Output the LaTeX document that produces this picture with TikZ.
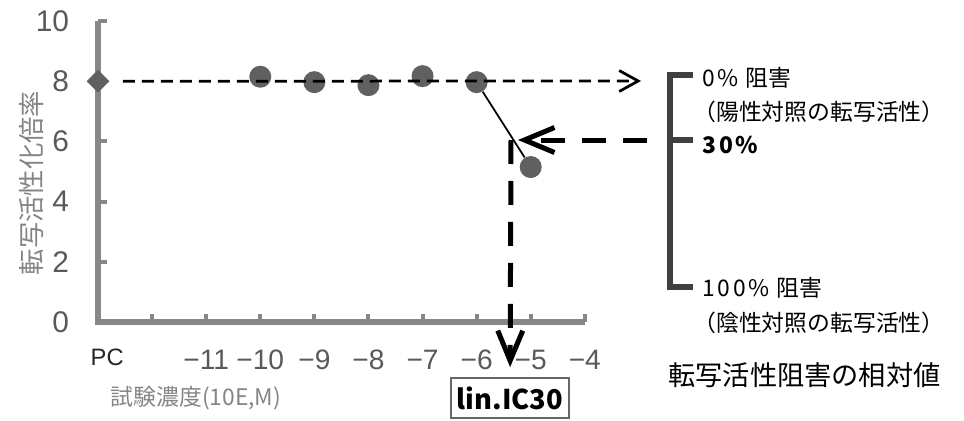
\documentclass[tikz,border=0pt]{standalone}
\usepackage{fontspec}
\setmainfont{Noto Sans CJK JP}
\newfontfamily\numfont{Liberation Sans}
\newfontfamily\spaced[LetterSpace=12]{Noto Sans CJK JP}
\usetikzlibrary{arrows.meta,positioning,shapes.geometric}
\definecolor{axisgray}{HTML}{878787}
\definecolor{dotgray}{HTML}{606060}
\definecolor{numgray}{HTML}{595959}
\definecolor{capgray}{HTML}{858585}
\definecolor{brackgray}{HTML}{404040}

\begin{document}
\begin{tikzpicture}[x=0.02cm, y=-0.02cm,
    axis/.style={draw=axisgray, line width=0.13cm},
    tickmark/.style={draw=axisgray, line width=0.08cm},
    dot/.style={circle, fill=dotgray, inner sep=0pt, minimum size=0.44cm},
    pcmark/.style={diamond, fill=dotgray, inner sep=0pt, minimum size=0.46cm},
    ynum/.style={anchor=east, text=numgray, font=\numfont\fontsize{17}{17}\selectfont},
    xnum/.style={text=numgray, font=\numfont\fontsize{16}{16}\selectfont},
    thindash/.style={draw=black, line width=0.055cm, dash pattern=on 0.24cm off 0.14cm,
      -{Straight Barb[length=0.38cm, width=0.42cm]}},
    bigdash/.style={draw=black, line width=0.1cm, dash pattern=on 0.48cm off 0.34cm,
      -{Straight Barb[length=0.6cm, width=0.5cm]}},
    bracket/.style={draw=brackgray, line width=0.13cm},
    rtext/.style={anchor=west, inner sep=0pt, font=\fontsize{13}{13}\selectfont}]
  \useasboundingbox (0,0) rectangle (964,420);

  % chart in data units
  \begin{scope}[shift={(98,322)}, x=1.082cm, y=0.602cm]
    \draw[axis] (0,10) -- (0,0) -- (9,0);
    \foreach \y in {2,4,...,10}
      \draw[tickmark] (0,\y) -- ++(0.17,0);
    \foreach \i in {1,...,9}
      \draw[tickmark] (\i,0) -- ++(0,0.28);
    \foreach \y in {0,2,...,10}
      \node[ynum] at (-0.42,\y) {\y};
    \node[text=black!85, font=\numfont\fontsize{13.5}{13.5}\selectfont] (pclab) at (0.17,-1.17) {PC};
    \foreach \i/\lab in {2/−11,3/−10,4/−9,5/−8,6/−7,7/−6,8/−5,9/−4}
      \node[xnum] at (\i,-1.26) {\lab};

    \node[pcmark] (pc) at (0,8) {};
    \node[dot] (p10) at (3,8.15) {};
    \node[dot] (p9) at (4,7.97) {};
    \node[dot] (p8) at (5,7.87) {};
    \node[dot] (p7) at (6,8.17) {};
    \node[dot] (p6) at (7,7.97) {};
    \node[dot] (p5) at (8,5.15) {};
  \end{scope}

  \node[rotate=90, text=capgray, font=\fontsize{15}{15}\selectfont] (ylab) at (32,183) {転写活性化倍率};
  \node[text=capgray, font=\fontsize{13}{13}\selectfont] (xlab) at (196,398) {試験濃度(10E,M)};

  \draw[black, line width=1pt] (p6) -- (p5);

  \coordinate (top0) at (641,81);
  \draw[thindash, shorten <=0.26cm] (pc) -- (top0);

  \node[draw=black!60, line width=1pt, minimum width=2.32cm, minimum height=0.8cm,
    font=\bfseries\fontsize{15.5}{15.5}\selectfont] (icbox) at (510,398) {lin.IC30};
  \coordinate (lvl30) at (647,140);
  \coordinate (ic) at (511,140);
  \draw[bigdash, shorten >=0.14cm] (lvl30) -- (ic);
  \draw[bigdash, shorten >=0.2cm] (ic) -- (icbox);

  % bracket on the right
  \draw[bracket] (693,75) -- (670,75) -- (670,287) -- (693,287);
  \draw[bracket] (670,140) -- (693,140);

  \node[rtext] (inh0) at (702,78) {{\spaced 0\%}\hspace{0.3em}阻害};
  \node[rtext] (pos) at (693,112) {（陽性対照の転写活性）};
  \node[rtext, font=\spaced\bfseries\fontsize{13}{13}\selectfont] (inh30) at (702,145) {30\%};
  \node[rtext] (inh100) at (702,288) {{\spaced 100\%}\hspace{0.3em}阻害};
  \node[rtext] (neg) at (693,323) {（陰性対照の転写活性）};
  \node[rtext, font=\fontsize{15.5}{15.5}\selectfont] (title) at (668,375) {転写活性阻害の相対値};
\end{tikzpicture}
\end{document}
